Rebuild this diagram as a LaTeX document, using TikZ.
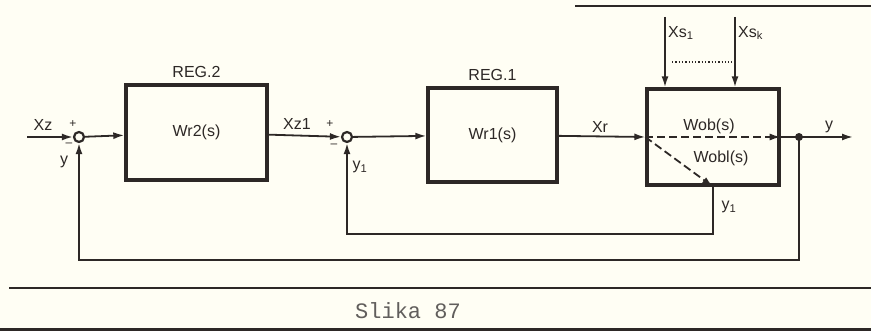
\documentclass[tikz,border=0pt]{standalone}
\usepackage{fontspec}
\setmainfont{Liberation Sans}
\setmonofont{Liberation Mono}
\usetikzlibrary{arrows.meta, calc}

\definecolor{papir}{RGB}{255,254,244}
\definecolor{tinta}{RGB}{45,40,38}

\tikzset{
    blok/.style={draw=tinta, line width=3.4pt, minimum width=#1, inner sep=0pt},
    zbir/.style={circle, draw=tinta, line width=2.2pt, fill=papir, minimum size=10pt, inner sep=0pt},
    veza/.style={draw=tinta, line width=1.8pt},
    strelica/.style={veza, -{Latex[length=11pt, width=7pt]}},
    natpis/.style={text=tinta, font=\fontsize{16}{18}\selectfont, inner sep=1pt},
    znak/.style={text=tinta, font=\fontsize{12}{12}\selectfont, inner sep=0pt}
}

\begin{document}
\begin{tikzpicture}[x=1pt, y=-1pt]
    \fill[papir] (0,0) rectangle (871,331);
    \useasboundingbox (0,0) rectangle (871,331);

    % blocks
    \node[blok=141pt, minimum height=95pt, natpis] (reg2) at (196.5,132.5) {Wr2(s)};
    \node[blok=129pt, minimum height=94pt, natpis] (reg1) at (492.5,135) {Wr1(s)};
    \node[blok=132pt, minimum height=96pt] (ob) at (713,137) {};
    \node[natpis, above=4pt] at (reg2.north) {REG.2};
    \node[natpis, above=4pt] at (reg1.north) {REG.1};

    % summing points
    \node[zbir] (s1) at (79,137) {};
    \node[zbir] (s2) at (347,137) {};

    % main line
    \coordinate (ulaz) at (27,137);
    \coordinate (cvor) at (799,137);
    \coordinate (izlaz) at (853,137);
    \draw[strelica] (ulaz) -- (s1);
    \draw[strelica] (s1) -- (reg2);
    \draw[strelica] (reg2) -- (s2);
    \draw[strelica] (s2) -- (reg1);
    \draw[strelica] (reg1) -- (ob.west);
    \draw[veza] (ob.east) -- (cvor);
    \draw[strelica] (cvor) -- (izlaz);
    \fill[tinta] (cvor) circle (4pt);

    % inside the plant
    \coordinate (oblkraj) at ($(ob.south west)!0.5!(ob.south east)$);
    \draw[strelica, dash pattern=on 8pt off 4pt] (ob.west) -- (ob.east);
    \draw[strelica, dash pattern=on 8pt off 4pt] (ob.west) -- (oblkraj);
    \node[natpis] at (709,126) {Wob(s)};
    \node[natpis] at (721,158) {Wobl(s)};

    % disturbances
    \coordinate (xs1) at (665,17);
    \coordinate (xsk) at (735,17);
    \draw[strelica] (xs1) -- (xs1 |- ob.north);
    \draw[strelica] (xsk) -- (xsk |- ob.north);
    \draw[tinta, line width=1.3pt, dotted] (672,62) -- (732,62);
    \node[natpis, anchor=west] at (667,33) {Xs\textsubscript{1}};
    \node[natpis, anchor=west] at (737,33) {Xs\textsubscript{k}};

    % feedback loops
    \draw[strelica] (oblkraj) -- ++(0,47) -| (s2);
    \draw[strelica] (cvor) -- ++(0,123) -| (s1);

    % signal labels
    \node[natpis] at (43,125) {Xz};
    \node[natpis] at (297,124) {Xz1};
    \node[natpis] at (600,127) {Xr};
    \node[natpis] at (829,127) {y};
    \node[natpis] at (64,162) {y};
    \node[natpis] at (360,167) {y\textsubscript{1}};
    \node[natpis] at (729,207) {y\textsubscript{1}};
    \node[znak] at (73,124) {+};
    \node[znak] at (69,145) {--};
    \node[znak] at (330,124) {+};
    \node[znak] at (334,146) {--};

    % frame lines and caption
    \draw[tinta, line width=1.8pt] (575,6) -- (871,6);
    \draw[tinta, line width=1.6pt] (9,288) -- (871,288);
    \draw[tinta, line width=2.4pt] (0,329.5) -- (871,329.5);
    \node[text=tinta!75, font=\ttfamily\fontsize{22}{24}\selectfont] (slika) at (408,311) {Slika 87};
\end{tikzpicture}
\end{document}
